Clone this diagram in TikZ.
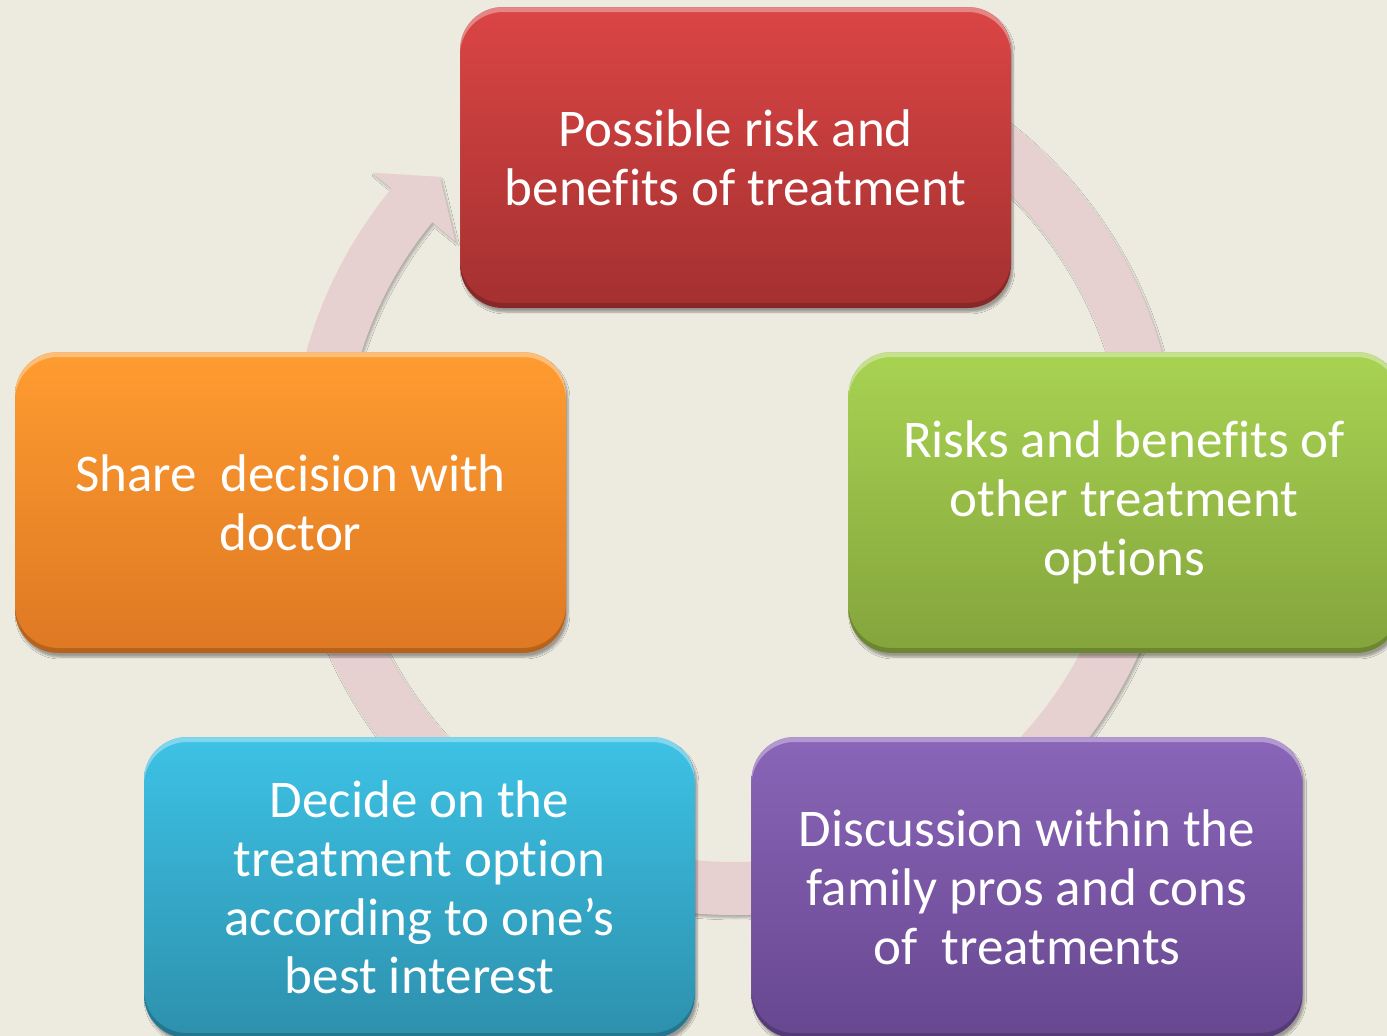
\documentclass[tikz,border=0pt]{standalone}
\usepackage{fontspec}
\setmainfont{Carlito}[Ligatures=CommonOff]
\usetikzlibrary{shadows,shadows.blur}

\definecolor{bg}{HTML}{EDEBE0}
\definecolor{ringfill}{HTML}{E7D0D0}
\definecolor{redtop}{HTML}{DB4545}
\definecolor{redbot}{HTML}{A43030}
\definecolor{greentop}{HTML}{A8D352}
\definecolor{greenbot}{HTML}{84A43C}
\definecolor{purpletop}{HTML}{8A65B8}
\definecolor{purplebot}{HTML}{674790}
\definecolor{bluetop}{HTML}{3DC2E5}
\definecolor{bluebot}{HTML}{2D90AD}
\definecolor{orangetop}{HTML}{FF9C30}
\definecolor{orangebot}{HTML}{DE7823}

\tikzset{
  stage/.style 2 args={
    minimum width=551pt, minimum height=301pt, inner sep=0pt,
    rounded corners=43pt, top color=#1, bottom color=#2,
    text=white, align=center,
    font=\fontsize{53}{58.8}\selectfont,
    blur shadow={shadow xshift=2pt, shadow yshift=-4pt, shadow opacity=35, shadow blur steps=6},
    path picture={
      \fill[white, opacity=0.35, even odd rule, rounded corners=43pt]
        (path picture bounding box.north west) rectangle (path picture bounding box.south east)
        ([yshift=-5pt]path picture bounding box.north west) rectangle ([yshift=-5pt]path picture bounding box.south east);
      \fill[black, opacity=0.18, even odd rule, rounded corners=43pt]
        (path picture bounding box.north west) rectangle (path picture bounding box.south east)
        ([yshift=5pt]path picture bounding box.north west) rectangle ([yshift=5pt]path picture bounding box.south east);
    }
  },
  cyclering/.style={fill=ringfill,
    blur shadow={shadow xshift=2pt, shadow yshift=-3pt, shadow opacity=25, shadow blur steps=5}}
}

\begin{document}
\begin{tikzpicture}[x=1pt, y=-1pt]
  \fill[bg] (0,0) rectangle (1387,1036);
  \useasboundingbox (0,0) rectangle (1387,1036);
  \clip (0,0) rectangle (1387,1036);

  % clockwise circular arrow behind the stages
  \begin{scope}[shift={(734,471)}, yscale=-1]
    \fill[cyclering] (90:444) arc[start angle=90, end angle=-219.5, radius=444]
      -- (-219.5:469) -- (-225:416) -- (-219.5:361) -- (-219.5:391)
      arc[start angle=-219.5, end angle=90, radius=391] -- cycle;
  \end{scope}

  % the five stages
  \node[stage={redtop}{redbot}] (risk) at (735.5,157.5)
    {Possible risk and\\benefits of treatment};
  \node[stage={greentop}{greenbot}] (options) at (1124,502.5)
    {Risks and benefits of\\other treatment\\options};
  \node[stage={purpletop}{purplebot}] (family) at (1027,887.5)
    {Discussion within the\\family pros and cons\\of\ \ treatments};
  \node[stage={bluetop}{bluebot}] (decide) at (419.5,887.5)
    {Decide on the\\treatment option\\according to one’s\\best interest};
  \node[stage={orangetop}{orangebot}] (share) at (290.5,502.5)
    {Share\ \ decision with\\doctor};
\end{tikzpicture}
\end{document}
